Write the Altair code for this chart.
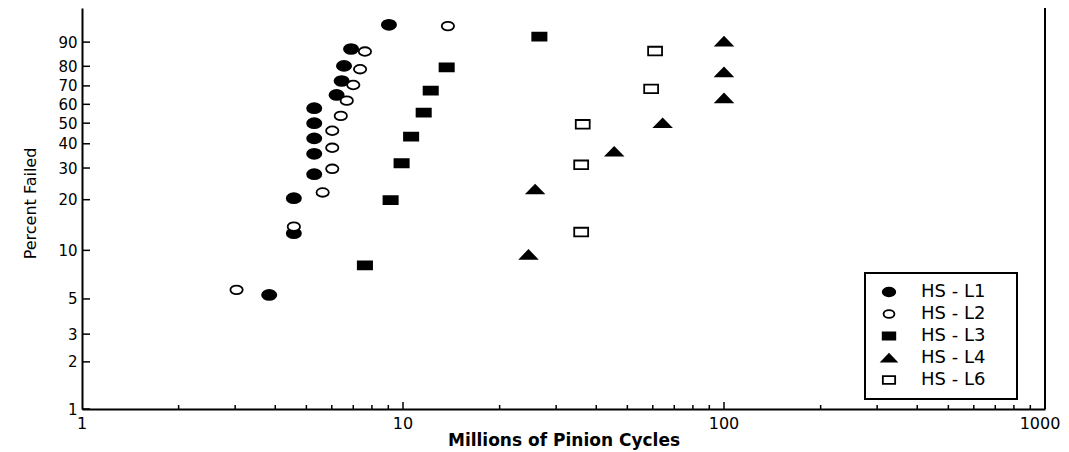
import math
import altair as alt
import pandas as pd

# ---- data ----
series_names = ["HS - L1", "HS - L2", "HS - L3", "HS - L4", "HS - L6"]

l1_cycles = [3.83, 4.57, 4.57, 5.29, 5.29, 5.29, 5.29, 5.29, 6.21, 6.44, 6.55, 6.89, 9.04]
l1_pct = [5.3, 12.7, 20.4, 27.8, 35.6, 42.5, 50.0, 57.9, 65.1, 72.6, 80.2, 87.5, 94.9]

l2_cycles = [3.03, 4.57, 5.62, 6.02, 6.02, 6.02, 6.40, 6.68, 7.00, 7.35, 7.61, 13.8]
l2_pct = [5.7, 13.9, 22.0, 29.7, 38.2, 46.2, 53.8, 62.0, 70.5, 78.6, 86.5, 94.6]

l3_cycles = [7.61, 9.15, 9.9, 10.6, 11.6, 12.2, 13.68, 26.6]
l3_pct = [8.1, 19.9, 31.8, 43.3, 55.5, 67.5, 79.5, 91.8]

l4_cycles = [24.6, 25.8, 45.5, 64.4, 100, 100, 100]
l4_pct = [9.4, 22.9, 36.5, 50.0, 63.3, 77.1, 90.2]

l6_cycles = [35.9, 35.9, 36.3, 59.3, 61.0]
l6_pct = [12.9, 31.2, 49.4, 68.4, 86.7]

x_tick_labels = [1, 10, 100]
x_last_label = [1000]
x_minor_ticks = [2, 3, 4, 5, 6, 7, 8, 9, 20, 30, 40, 50, 60, 70, 80, 90,
                 200, 300, 400, 500, 600, 700, 800, 900]
x_major_ticks = [10, 100]
y_tick_labels = [1, 2, 3, 5, 10, 20, 30, 40, 50, 60, 70, 80, 90]
y_top_pct = 97.8

# ---- build table ----
rows = []
for name, xs, ys in zip(series_names,
                        [l1_cycles, l2_cycles, l3_cycles, l4_cycles, l6_cycles],
                        [l1_pct, l2_pct, l3_pct, l4_pct, l6_pct]):
    for a, b in zip(xs, ys):
        rows.append({"series": name, "cycles": a, "pct": b})
df = pd.DataFrame(rows)


def weib(p):
    return math.log(-math.log(1 - p / 100.0))


y_vals = [weib(p) for p in y_tick_labels]
y_domain = [weib(1), weib(y_top_pct)]

W, H = 963, 401
FONT = "DejaVu Sans"

xscale = alt.Scale(type="log", domain=[1, 1000], nice=False)
yscale = alt.Scale(domain=y_domain, nice=False, zero=False)

x_axis = alt.Axis(values=x_tick_labels + x_last_label, labels=False, ticks=False, grid=False,
                  domainColor="black", domainWidth=2,
                  titleFont=FONT, titleFontSize=17,
                  titleFontWeight="bold", titleColor="black",
                  titleBaseline="top", titleY=23)
y_axis = alt.Axis(values=y_vals, ticks=False, grid=False,
                  labelExpr="format(100*(1-exp(-exp(datum.value))), '.0f')",
                  domainColor="black", domainWidth=2, labelFont=FONT,
                  labelFontSize=15, labelColor="black", labelPadding=5,
                  labelFlush=False, labelOverlap=False,
                  titleFont=FONT, titleFontSize=16, titleFontWeight="normal",
                  titleColor="black", titleAngle=270, titleAlign="center",
                  titleBaseline="middle", titleX=-52, titleY=195)
XT = "Millions of Pinion Cycles"
YT = "Percent Failed"

shapes = [
    "M-0.89,0A0.89,0.62,0,1,1,0.89,0A0.89,0.62,0,1,1,-0.89,0Z",
    "M-0.77,0A0.77,0.54,0,1,1,0.77,0A0.77,0.54,0,1,1,-0.77,0Z",
    "M-0.89,-0.5H0.89V0.5H-0.89Z",
    "M-1.02,0.5L0,-0.55L1.02,0.5Z",
    "M-0.87,-0.54H0.87V0.54H-0.87Z",
]
fills = ["black", "white", "black", "black", "white"]
strokes = ["black"] * 5

leg = alt.Legend(title="MM")

points = alt.Chart(df).transform_calculate(
    w="log(-log(1 - datum.pct / 100))"
).mark_point(filled=True, strokeWidth=1.8, size=256, opacity=1).encode(
    x=alt.X("cycles:Q", scale=xscale, title=XT, axis=x_axis),
    y=alt.Y("w:Q", scale=yscale, title=YT, axis=y_axis),
    shape=alt.Shape("series:N", scale=alt.Scale(domain=series_names, range=shapes), legend=leg),
    fill=alt.Fill("series:N", scale=alt.Scale(domain=series_names, range=fills), legend=leg),
    stroke=alt.Stroke("series:N", scale=alt.Scale(domain=series_names, range=strokes), legend=leg),
)

right_line = alt.Chart(pd.DataFrame({"cycles": [1000]})).mark_rule(
    color="black", strokeWidth=2).encode(
    x=alt.X("cycles:Q", scale=xscale, title=XT, axis=x_axis))

minor_x = alt.Chart(pd.DataFrame({"cycles": x_minor_ticks})).mark_rule(
    color="black", strokeWidth=1.5).encode(
    x=alt.X("cycles:Q", scale=xscale, title=XT, axis=x_axis),
    y=alt.value(H), y2=alt.value(H - 4))

major_x = alt.Chart(pd.DataFrame({"cycles": x_major_ticks})).mark_rule(
    color="black", strokeWidth=1.5).encode(
    x=alt.X("cycles:Q", scale=xscale, title=XT, axis=x_axis),
    y=alt.value(H), y2=alt.value(H - 7))

y_ticks = alt.Chart(pd.DataFrame({"w": y_vals})).mark_rule(
    color="black", strokeWidth=1.5).encode(
    y=alt.Y("w:Q", scale=yscale, title=YT, axis=y_axis),
    x=alt.value(0), x2=alt.value(8))

x_labels = alt.Chart(pd.DataFrame({"cycles": x_tick_labels})).mark_text(
    font=FONT, fontSize=16, color="black", align="center", baseline="top", dy=7).encode(
    x=alt.X("cycles:Q", scale=xscale, title=XT, axis=x_axis),
    y=alt.value(H), text=alt.Text("cycles:Q", format="d"))

x_label_last = alt.Chart(pd.DataFrame({"cycles": x_last_label})).mark_text(
    font=FONT, fontSize=16, color="black", align="center", baseline="top", dy=7, dx=-5).encode(
    x=alt.X("cycles:Q", scale=xscale, title=XT, axis=x_axis),
    y=alt.value(H), text=alt.Text("cycles:Q", format="d"))

chart = alt.layer(points, right_line, minor_x, major_x, y_ticks, x_labels, x_label_last).properties(
    width=W, height=H,
    padding={"left": 74, "top": 0, "right": 16, "bottom": 44},
    autosize=alt.AutoSizeParams(type="none"),
    background="white",
).configure_view(stroke=None).configure_legend(
    orient="none", legendX=783, legendY=265, strokeColor="black", strokeWidth=2,
    padding=10, fillColor="white", labelFont=FONT, labelFontSize=18,
    labelColor="black", symbolStrokeColor="black", symbolStrokeWidth=1.8,
    symbolSize=200, rowPadding=4, labelOffset=23, symbolOffset=5,
    titleOrient="right", titleColor="white", titleFontSize=10, titlePadding=2,
    titleFont=FONT,
)

chart.save("out.html", embed_options={"renderer": "svg", "actions": False})
